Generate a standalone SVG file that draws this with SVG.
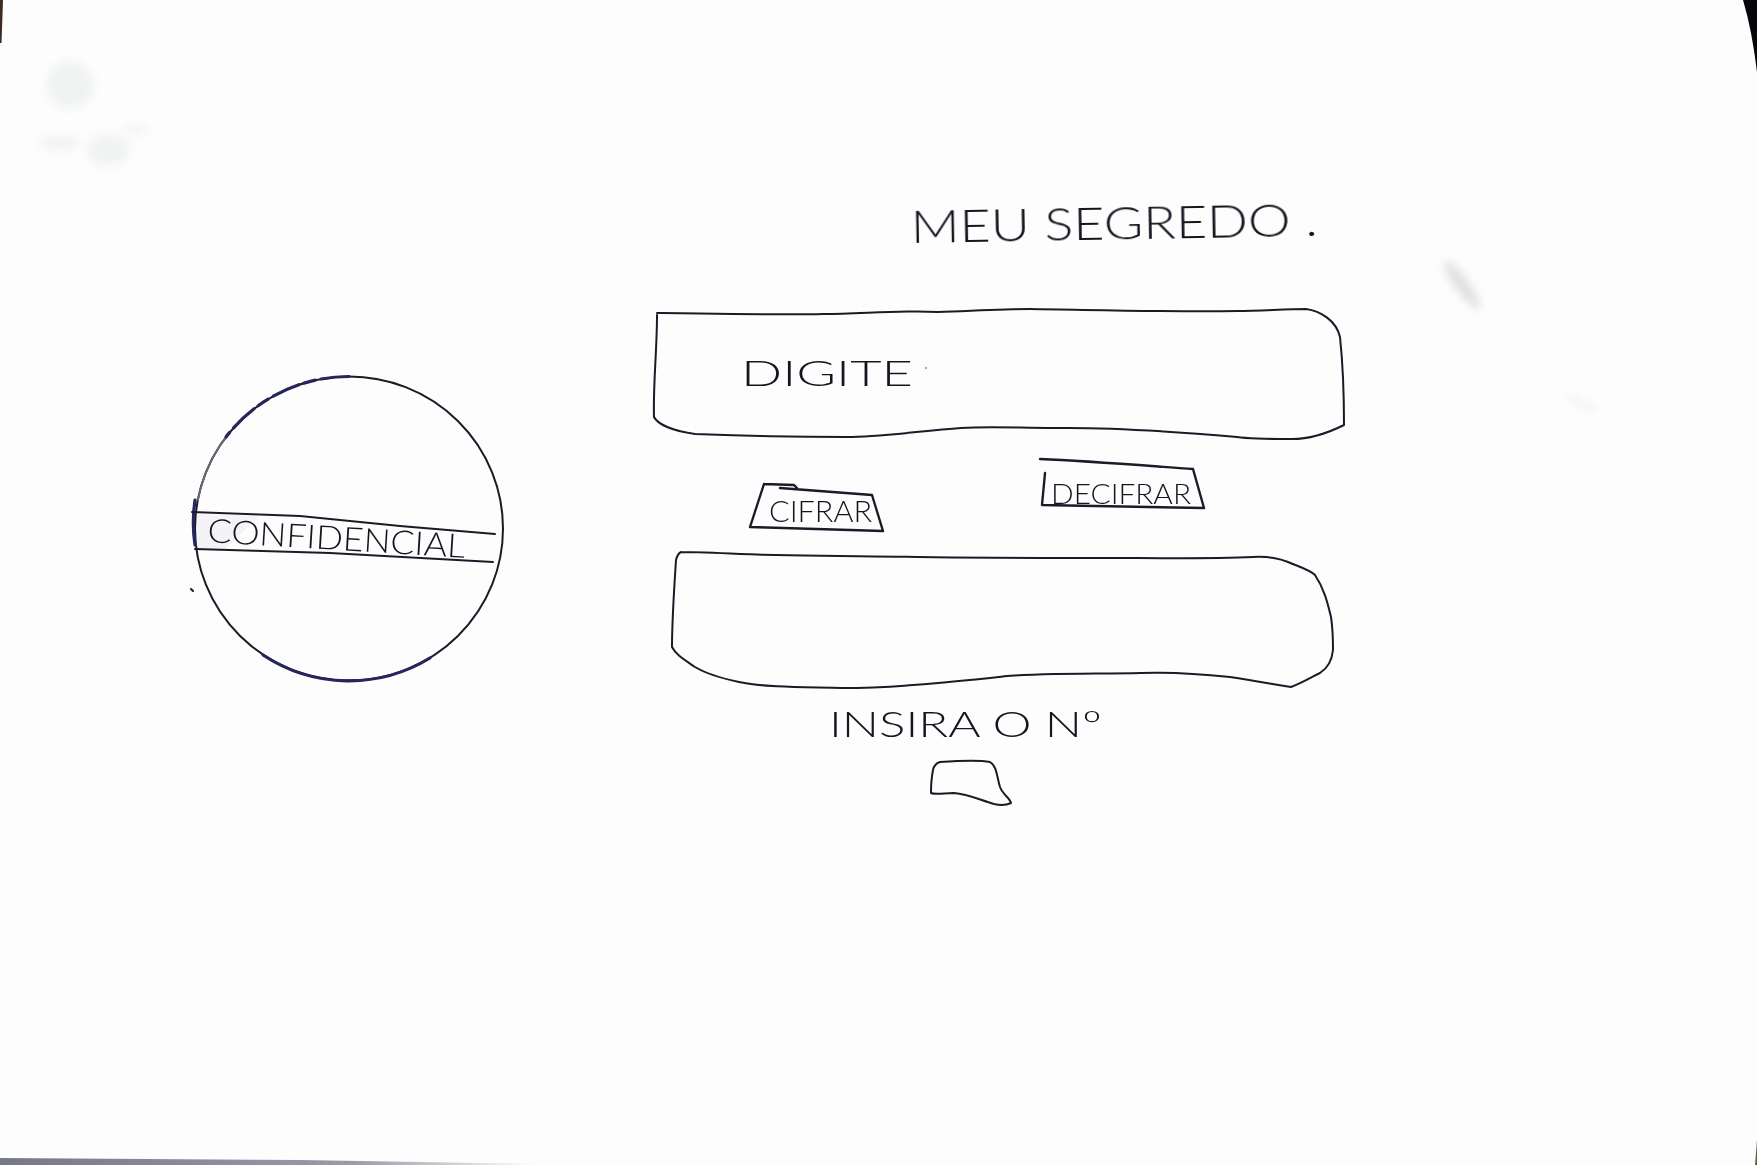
<svg xmlns="http://www.w3.org/2000/svg" width="1757" height="1165" viewBox="0 0 1757 1165">
<style>
.ink{fill:none;stroke:#1b1b28;stroke-width:2;stroke-linecap:round;stroke-linejoin:round}
.heavy{stroke-width:2.400}
.blue{stroke:#26265c;stroke-width:3.200}
.grey{stroke:#6a6a78;stroke-width:1.800}
.t{font-family:"Lato","Liberation Sans",sans-serif;font-weight:300;fill:#15151f}
.s{fill:#f1f3f3}
</style>
<defs>
<filter id="b" x="-40%" y="-40%" width="180%" height="180%"><feGaussianBlur stdDeviation="4"/></filter>
<linearGradient id="edge" x1="0" x2="1" y1="0" y2="0"><stop offset="0" stop-color="#77778c"/><stop offset="0.65" stop-color="#9a9aa8"/><stop offset="1" stop-color="#fdfdfd"/></linearGradient>
</defs>
<rect id="paper" width="1757" height="1165" fill="#fdfdfd"/>
<g id="marks">
<path d="M0 0H3L1.500 43H0Z" fill="#3a2c22"/>
<path d="M1743 0Q1752 30 1757 72V0Z" fill="#05050c"/>
<path d="M0 1158L300 1160L540 1164V1165H0Z" fill="url(#edge)"/>
<path d="M1757 1140V1165H1755Z" fill="#6b5a3e"/>
<g filter="url(#b)">
<ellipse class="s" cx="70" cy="85" rx="24" ry="24"/>
<ellipse class="s" cx="60" cy="143" rx="20" ry="7"/>
<ellipse class="s" cx="108" cy="150" rx="22" ry="16"/>
<ellipse class="s" cx="135" cy="130" rx="14" ry="4"/>
<ellipse cx="1462" cy="285" rx="7" ry="29" fill="#e0e0e0" transform="rotate(-36 1462 285)"/>
<ellipse cx="1582" cy="403" rx="18" ry="2" fill="#ececec" transform="rotate(25 1582 403)"/>
</g>
</g>
<g id="title">
<text class="t" x="911" y="243" font-size="46" textLength="407" lengthAdjust="spacingAndGlyphs" transform="rotate(-1 911 243)">MEU SEGREDO .</text>
</g>
<g id="stamp">
<path d="M194 514L260 516L225 549L195 549Z" fill="#f4f4f6"/>
<ellipse class="ink" cx="349" cy="528.500" rx="154" ry="152"/>
<path class="ink grey" d="M226 437A154 152 0 0 0 198 500"/>
<path class="ink blue" d="M349 376.500A154 152 0 0 0 226 437" stroke-dasharray="28 6 12 5"/>
<path class="ink blue" d="M195 500A154 152 0 0 0 195 545"/>
<path class="ink blue" d="M263 655A154 152 0 0 0 430 658"/>
<path class="ink" d="M192 512L300 516L400 526L495 534"/>
<path class="ink" d="M195 549L330 553L493 562"/>
<path d="M191 589l2 2" class="ink"/>
<text class="t" x="207" y="542" font-size="33" textLength="258" lengthAdjust="spacingAndGlyphs" transform="rotate(3.500 207 542)">CONFIDENCIAL</text>
</g>
<g id="input-box">
<path class="ink" d="M657 313C720 314 780 315 824 314C860 314 900 310 938 312C970 311 1000 309 1030 309C1100 310 1170 312 1237 311C1260 311 1285 309 1306 309C1320 311 1336 320 1340 337C1343 365 1344 395 1344 425C1330 432 1310 439 1292 439C1270 439 1250 439 1237 437C1180 432 1110 427 1053 428C1020 428 990 426 961 428C920 431 880 437 847 437C800 437 745 436 695 434C675 431 658 425 654 417C653 385 657 350 657 315"/>
<text class="t" x="741" y="386" font-size="36" textLength="172" lengthAdjust="spacingAndGlyphs">DIGITE</text>
<circle cx="926" cy="368" r="1.200" fill="#aaa"/>
</g>
<g id="cifrar">
<path class="ink heavy" d="M764 484L794 485L797 488M780 488L872 495L883 531L750 527L764 484"/>
<text class="t" x="769" y="522" font-size="30" textLength="103" lengthAdjust="spacingAndGlyphs">CIFRAR</text>
</g>
<g id="decifrar">
<path class="ink heavy" d="M1040 459C1090 461 1150 466 1193 469L1204 508L1042 505L1045 473"/>
<text class="t" x="1051" y="504" font-size="27" textLength="140" lengthAdjust="spacingAndGlyphs">DECIFRAR</text>
</g>
<g id="output-box">
<path class="ink" d="M681 552C700 552 720 553 740 554C800 556 860 556 918 557C980 558 1040 558 1096 558C1150 558 1210 559 1253 557C1270 556 1280 559 1288 562C1300 567 1310 570 1315 575C1325 590 1328 605 1331 617C1333 630 1333 640 1333 650C1332 660 1328 668 1320 673C1310 678 1300 684 1291 687C1270 684 1250 680 1230 677C1200 674 1170 672 1141 673C1095 674 1050 673 1007 676C950 682 895 688 842 688C805 687 770 688 739 682C720 678 705 673 695 667C685 660 676 655 672 647C672 620 674 590 676 560C677 556 679 553 681 552"/>
</g>
<g id="number-label">
<text class="t" x="829" y="737" font-size="36" textLength="273" lengthAdjust="spacingAndGlyphs">INSIRA O Nº</text>
</g>
<g id="number-box">
<path class="ink" d="M940 762C955 761 980 760 990 762C997 766 997 778 1000 787C1003 795 1010 798 1011 803C1005 806 998 805 994 804C980 800 968 794 954 793C945 793 935 795 931 793C931 785 932 775 933 770C934 765 937 763 940 762"/>
</g>
</svg>
